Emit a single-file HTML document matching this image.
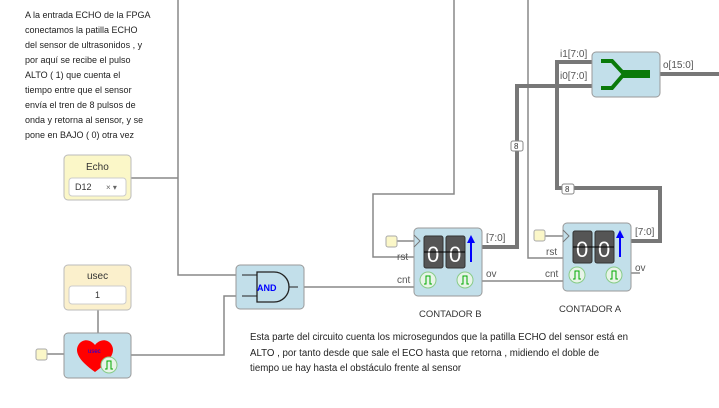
<!DOCTYPE html>
<html><head><style>
body{margin:0;width:719px;height:408px;background:#fff;overflow:hidden;font-family:"Liberation Sans",sans-serif}
svg{position:absolute;left:0;top:0}
.t{font-size:9px;fill:#222}
.b{font-size:9.7px;fill:#222}
.l{font-size:10px;fill:#555}
</style></head><body>
<svg width="719" height="408" viewBox="0 0 719 408">
<g fill="none" stroke="#888" stroke-width="1.5">
<path d="M131 178H178M178 0V275H236"/>
<path d="M98 310V333"/>
<path d="M46 354H64"/>
<path d="M131 355H224V296H236"/>
<path d="M304 287H414"/>
<path d="M414 257H373V194H454V0"/>
<path d="M397 241H414"/>
<path d="M482 281H563"/>
<path d="M563 258H528V0"/>
<path d="M545 236H563"/>
<path d="M631 273H640"/>
</g>
<g fill="none" stroke="#777" stroke-width="4">
<path d="M482 247H517V86H592"/>
<path d="M631 241H660V188H557V62H592"/>
<path d="M660 74H719"/>
</g>
<g font-size="8" fill="#333">
<rect x="511" y="141" width="12" height="10" rx="2" fill="#fff" stroke="#888"/><text x="514" y="149">8</text>
<rect x="562" y="184" width="12" height="10" rx="2" fill="#fff" stroke="#888"/><text x="565" y="192">8</text>
</g>
<!-- mux -->
<rect x="592" y="52" width="68" height="45" rx="4" fill="#c2dfea" stroke="#999"/>
<path d="M601 61H612L624 74M601 88H612L624 74" fill="none" stroke="#0a7a0a" stroke-width="4"/>
<rect x="622" y="70" width="28" height="8" fill="#0a7a0a"/>
<text class="l" x="560" y="57">i1[7:0]</text>
<text class="l" x="560" y="79">i0[7:0]</text>
<text class="l" x="663" y="68">o[15:0]</text>
<!-- Echo -->
<rect x="64" y="155" width="67" height="45" rx="4" fill="#fbf7c8" stroke="#bbb"/>
<text x="86" y="170" font-size="10" fill="#333">Echo</text>
<rect x="69" y="178" width="57" height="18" rx="3" fill="#fff" stroke="#ccc"/>
<text x="75" y="190" font-size="9" fill="#333">D12</text>
<text x="106" y="190" font-size="8" fill="#666">× ▾</text>
<!-- usec -->
<rect x="64" y="265" width="67" height="45" rx="4" fill="#fbf0cc" stroke="#bbb"/>
<text x="87" y="279" font-size="10" fill="#333">usec</text>
<rect x="69" y="286" width="57" height="18" rx="3" fill="#fff" stroke="#ccc"/>
<text x="95" y="298" font-size="9" fill="#333">1</text>
<!-- heart -->
<rect x="36" y="349" width="11" height="11" rx="2" fill="#fbf7c8" stroke="#aaa"/>
<rect x="64" y="333" width="67" height="45" rx="4" fill="#c2dfea" stroke="#999"/>
<path d="M95 372C78 360 74 351 79 344C84 338 91 340 95 345C99 340 106 338 111 344C116 351 112 360 95 372Z" fill="#f00"/>
<text x="88" y="353" font-size="6" fill="#00f">usec</text>
<circle cx="109" cy="365" r="8" fill="#e8f4e8" stroke="#8c8"/>
<path d="M105 369H107V361H111V369H113" fill="none" stroke="#0a0"/>
<!-- AND -->
<rect x="236" y="265" width="68" height="44" rx="4" fill="#c2dfea" stroke="#999"/>
<path d="M257 272H274A15 15 0 0 1 274 302H257Z" fill="none" stroke="#222" stroke-width="1.3"/>
<path d="M242 275H257M242 296H257M289 287H298" stroke="#222"/>
<text x="257" y="291" font-size="9" font-weight="bold" fill="#00f">AND</text>
<!-- counters -->
<g id="cb">
<rect x="414" y="228" width="68" height="68" rx="4" fill="#c2dfea" stroke="#999"/>
<rect x="424" y="236" width="19" height="32" rx="2" fill="#555" stroke="#333"/>
<rect x="446" y="236" width="19" height="32" rx="2" fill="#555" stroke="#333"/>
<text x="427" y="262" font-size="22" fill="#fff">0</text><text x="449" y="262" font-size="22" fill="#fff">0</text>
<path d="M424 252H465" stroke="#000"/>
<path d="M471 262V240" stroke="#00f" stroke-width="2"/><path d="M467 243L471 235L475 243Z" fill="#00f"/>
<circle cx="428" cy="280" r="8" fill="#e8f4e8" stroke="#8c8"/><path d="M424 284H426V276H430V284H432" fill="none" stroke="#0a0"/>
<circle cx="465" cy="280" r="8" fill="#e8f4e8" stroke="#8c8"/><path d="M461 284H463V276H467V284H469" fill="none" stroke="#0a0"/>
<path d="M414 235L420 241L414 247" fill="none" stroke="#777"/>
</g>
<use href="#cb" x="149" y="-5"/>
<rect x="386" y="236" width="11" height="11" rx="2" fill="#fbf7c8" stroke="#aaa"/>
<rect x="534" y="230" width="11" height="11" rx="2" fill="#fbf7c8" stroke="#aaa"/>
<text class="l" x="397" y="260">rst</text><text class="l" x="397" y="283">cnt</text>
<text class="l" x="486" y="241">[7:0]</text><text class="l" x="486" y="277">ov</text>
<text class="l" x="546" y="255">rst</text><text class="l" x="545" y="277">cnt</text>
<text class="l" x="635" y="235">[7:0]</text><text class="l" x="635" y="271">ov</text>
<text x="419" y="317" font-size="9.5" fill="#333">CONTADOR B</text>
<text x="559" y="312" font-size="9.5" fill="#333">CONTADOR A</text>
<g class="t">
<text x="25" y="18">A la entrada ECHO de la FPGA</text>
<text x="25" y="33">conectamos la patilla ECHO</text>
<text x="25" y="48">del sensor de ultrasonidos , y</text>
<text x="25" y="63">por aquí se recibe el pulso</text>
<text x="25" y="78">ALTO ( 1) que cuenta el</text>
<text x="25" y="93">tiempo entre que el sensor</text>
<text x="25" y="108">envía el tren de 8 pulsos de</text>
<text x="25" y="123">onda y retorna al sensor, y se</text>
<text x="25" y="138">pone en BAJO ( 0) otra vez</text>
</g>
<g class="b">
<text x="250" y="340">Esta parte del circuito cuenta los microsegundos que la patilla ECHO del sensor está en</text>
<text x="250" y="356">ALTO , por tanto desde que sale el ECO hasta que retorna , midiendo el doble de</text>
<text x="250" y="371">tiempo ue hay hasta el obstáculo frente al sensor</text>
</g>
</svg>
</body></html>
